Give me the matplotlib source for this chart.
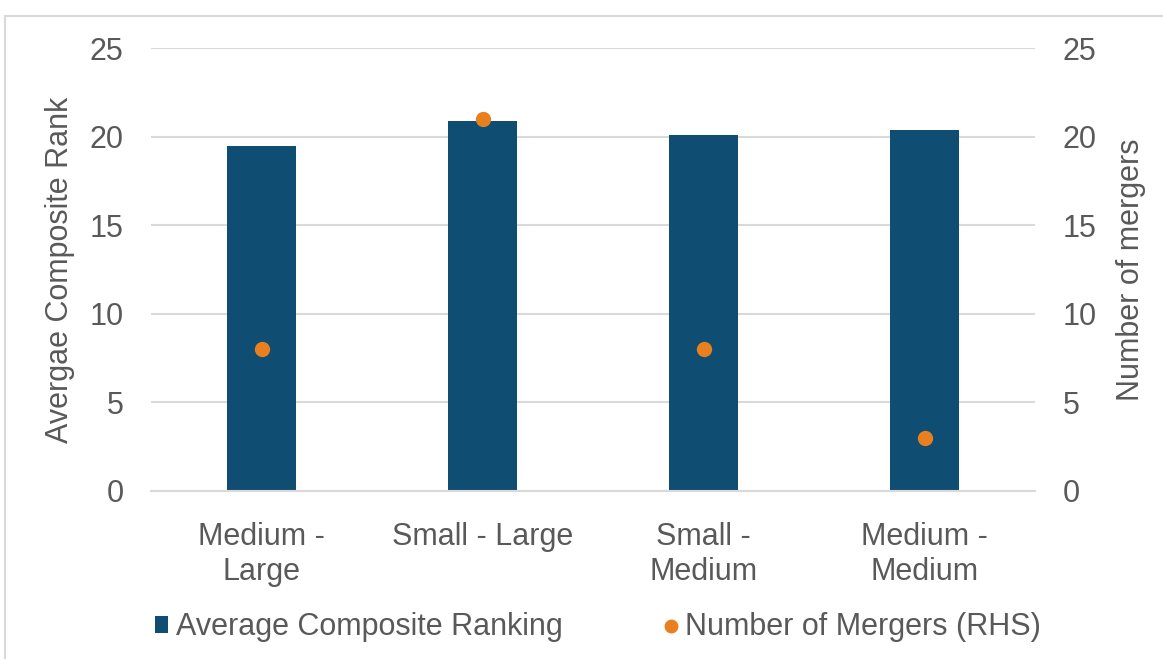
import matplotlib.pyplot as plt
from matplotlib.patches import Rectangle

plt.rcParams['font.family'] = ['Liberation Sans', 'DejaVu Sans']

categories = ['Medium -\nLarge', 'Small - Large', 'Small -\nMedium', 'Medium -\nMedium']
avg_rank = [19.5, 20.9, 20.1, 20.4]
num_mergers = [8, 21, 8, 3]

bar_color = '#0F4E72'
dot_color = '#E8801F'
text_color = '#595959'
grid_color = '#D9D9D9'
fs = 22

fig = plt.figure(figsize=(11.63, 6.59), dpi=100)
ax = fig.add_axes([0.130, 0.255, 0.760, 0.672])
ax2 = ax.twinx()

x = range(len(categories))
ax.set_axisbelow(True)
ax.yaxis.grid(True, color=grid_color, linewidth=1.5)
ax.bar(x, avg_rank, width=0.31, color=bar_color, zorder=2, label='Average Composite Ranking')
ax2.plot(x, num_mergers, 'o', color=dot_color, markersize=10, label='Number of Mergers (RHS)')

ax.set_xlim(-0.5, 3.5)
ax.set_ylim(0, 25)
ax2.set_ylim(0, 25)
ax.set_yticks(range(0, 26, 5))
ax2.set_yticks(range(0, 26, 5))
ax.set_xticks(list(x))
ax.set_xticklabels(categories, fontsize=fs, color=text_color, linespacing=1.25)

for a in (ax, ax2):
    for s in a.spines.values():
        s.set_visible(False)
    a.tick_params(axis='y', length=0, labelsize=fs, labelcolor=text_color, pad=20)
ax.tick_params(axis='x', length=0, pad=22)
ax.spines['bottom'].set_visible(True)
ax.spines['bottom'].set_color(grid_color)
ax.spines['bottom'].set_linewidth(1.5)

ax.set_ylabel('Avergae Composite Rank', fontsize=fs, color=text_color, labelpad=10)
ax2.set_ylabel('Number of mergers', fontsize=fs, color=text_color, labelpad=14)

h1, l1 = ax.get_legend_handles_labels()
h2, l2 = ax2.get_legend_handles_labels()
fig.legend(h1 + h2, l1 + l2, loc='center', bbox_to_anchor=(0.514, 0.048), ncol=2,
           frameon=False, fontsize=fs, labelcolor=text_color, handlelength=0.45,
           handletextpad=0.25, columnspacing=3.3, handleheight=0.5, markerscale=0.9)

# screenshot frame border
fig.add_artist(Rectangle((0.004, -0.01), 1.1, 0.986, transform=fig.transFigure,
                         fill=False, edgecolor='#D9D9D9', linewidth=1.5))

fig.savefig('out.png', dpi=100)
